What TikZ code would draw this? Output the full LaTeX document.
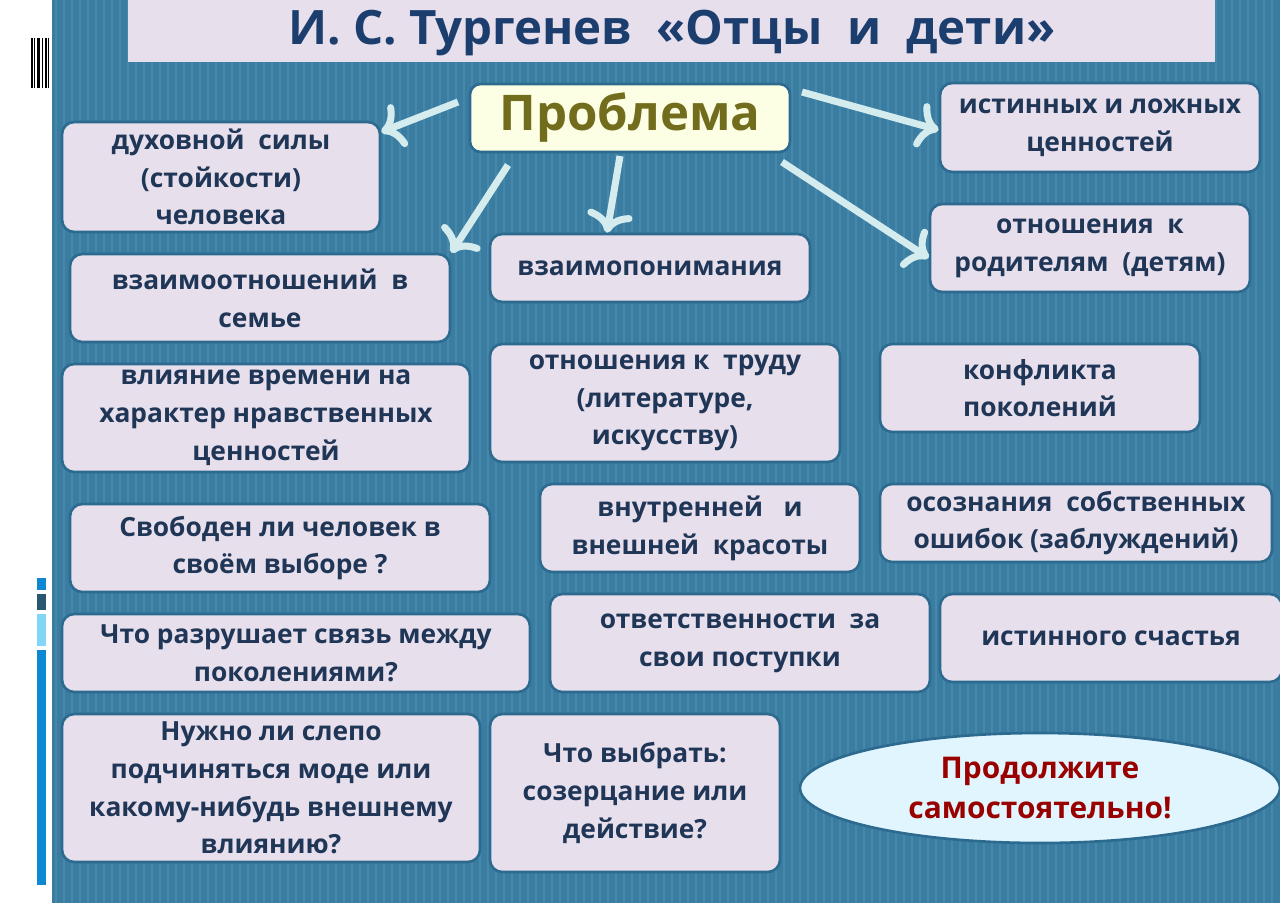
\documentclass[tikz,border=0pt]{standalone}
\usepackage{fontspec}
\setmainfont{Open Sans}
\usetikzlibrary{arrows.meta,shapes.geometric}
\definecolor{bg}{HTML}{3B7DA1}
\definecolor{bgl}{HTML}{4688AB}
\definecolor{boxf}{HTML}{E7DFEC}
\definecolor{boxd}{HTML}{2C6A90}
\definecolor{txt}{HTML}{1F3656}
\definecolor{ttl}{HTML}{1C3E6E}
\definecolor{arr}{HTML}{D4ECEE}
\tikzset{
  box/.style={draw=boxd, line width=1.5pt, fill=boxf, rounded corners=7pt, text=txt, align=center,
    font=\fontsize{15}{21.5}\selectfont\bfseries, inner sep=2pt},
  arw/.style={draw=arr, line width=4pt, -{To[length=12pt,width=26pt,line width=4pt]}}
}
\newcommand{\bx}[6]{\node[box, minimum width={(#4-#2)*0.02cm}, minimum height={(#5-#3)*0.02cm}] (#1) at ({(#2+#4)/2},{(#3+#5)/2}) {#6};}
\begin{document}
\begin{tikzpicture}[x=0.02cm,y=-0.02cm]
\useasboundingbox (0,0) rectangle (1280,903);
\fill[white] (0,0) rectangle (1280,903);
\fill[bg] (52,0) rectangle (1280,903);
\foreach \i in {0,...,152} {\draw[bgl, line width=1pt] ({56+\i*8},0) -- ({56+\i*8},903);}
% left strip decorations
\foreach \i/\w in {31/2,34/1,37/3,42/1,45/2,48/1} {\fill[black] (\i,38) rectangle ({\i+\w},88);}
\fill[cyan!70!blue] (37,578) rectangle (46,590);
\fill[bg!70!black] (37,594) rectangle (46,610);
\fill[cyan!50] (37,614) rectangle (46,646);
\fill[cyan!70!blue] (37,650) rectangle (46,885);
% title
\fill[boxf] (128,0) rectangle (1215,62);
\node[text=ttl, font=\fontsize{27}{30}\selectfont\bfseries] (title) at (672,33) {И. С. Тургенев \ «Отцы \ и \ дети»};
% problem
\node[draw=boxd, line width=1.5pt, fill=green!6!yellow!10, rounded corners=6pt, text=olive!75!black,
  font=\fontsize{28}{30}\selectfont\bfseries, minimum width=6.4cm, minimum height=1.36cm] (p) at (630,118) {Проблема};
\bx{b1}{62}{122}{380}{232}{духовной \ силы\\(стойкости)\\человека}
\bx{b3}{940}{83}{1260}{172}{истинных и ложных\\ценностей}
\bx{b4}{70}{254}{450}{342}{взаимоотношений \ в\\семье}
\bx{b5}{490}{234}{810}{302}{взаимопонимания}
\bx{b6}{930}{204}{1250}{292}{отношения \ к\\родителям \ (детям)}
\bx{b7}{62}{364}{470}{472}{влияние времени на\\характер нравственных\\ценностей}
\bx{b8}{490}{344}{840}{462}{отношения к \ труду\\(литературе,\\искусству)}
\bx{b9}{880}{344}{1200}{432}{конфликта\\поколений}
\bx{b10}{70}{504}{490}{592}{Свободен ли человек в\\своём выборе ?}
\bx{b11}{540}{484}{860}{572}{внутренней \ \ и\\внешней \ красоты}
\bx{b12}{880}{484}{1272}{562}{осознания \ собственных\\ошибок (заблуждений)}
\bx{b13}{62}{614}{530}{692}{Что разрушает связь между\\поколениями?}
\bx{b14}{550}{594}{930}{692}{ответственности \ за\\свои поступки}
\bx{b15}{940}{594}{1282}{682}{истинного счастья}
\bx{b16}{62}{714}{480}{862}{Нужно ли слепо\\подчиняться моде или\\какому-нибудь внешнему\\влиянию?}
\bx{b17}{490}{714}{780}{872}{Что выбрать:\\созерцание или\\действие?}
\node[ellipse, draw=boxd, line width=1.5pt, fill=cyan!12, minimum width=9.6cm, minimum height=2.2cm,
  text=red!60!black, align=center, font=\fontsize{17}{23}\selectfont\bfseries] (e) at (1040,788) {Продолжите\\самостоятельно!};
% arrows
\coordinate (a1s) at (458,102); \coordinate (a2s) at (508,165); \coordinate (a3s) at (620,156);
\coordinate (a4s) at (802,92); \coordinate (a5s) at (782,162);
\draw[arw] (a1s) -- (b1.north east |- 0,132) ;
\draw[arw] (a2s) -- (b4.north east);
\draw[arw] (a3s) -- (b5.north -| 607,0);
\draw[arw] (a4s) -- (b3.west |- 0,130);
\draw[arw] (a5s) -- (b6.west |- 0,258);
\end{tikzpicture}
\end{document}
